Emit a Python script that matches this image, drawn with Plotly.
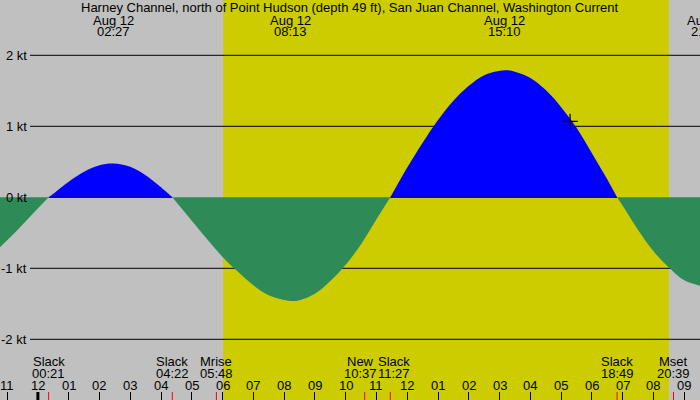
import plotly.graph_objects as go

title_text = "Harney Channel, north of Point Hudson (depth 49 ft), San Juan Channel, Washington Current"

# Current speed (kt, + = flood, - = ebb); time in hours from midnight Aug 12
hours = [-1.25, -0.75, -0.25, 0.35, 0.5, 1.0, 1.5, 2.0, 2.45, 3.0, 3.5, 4.0, 4.367,
         5.0, 5.5, 6.0, 6.5, 7.0, 7.5, 8.217, 8.5, 9.0, 9.5, 10.0, 10.5, 11.0, 11.45,
         12.0, 12.5, 13.0, 13.5, 14.0, 14.5, 15.167, 15.5, 16.0, 16.5, 17.0, 17.5, 18.0,
         18.5, 18.817, 19.0, 19.5, 20.0, 20.5, 21.0, 21.55]
speed = [-0.71, -0.50, -0.27, 0.0, 0.05, 0.22, 0.36, 0.45, 0.475, 0.43, 0.31, 0.14, 0.0,
         -0.33, -0.59, -0.84, -1.05, -1.24, -1.38, -1.46, -1.45, -1.36, -1.18, -0.95, -0.66, -0.31, 0.0,
         0.42, 0.77, 1.09, 1.36, 1.57, 1.72, 1.79, 1.77, 1.68, 1.51, 1.27, 0.98, 0.62,
         0.25, 0.0, -0.12, -0.46, -0.76, -0.99, -1.17, -1.25]

# Maximum current events (top labels)
max_times = [2.45, 8.217, 15.167, 21.77]
max_dates = ["Aug 12", "Aug 12", "Aug 12", "Aug 12"]
max_clock = ["02:27", "08:13", "15:10", "21:46"]

# Slack / moon events (bottom labels)
event_times = [0.35, 4.367, 5.8, 10.617, 11.45, 18.817, 20.65]
event_names = ["Slack", "Slack", "Mrise", "New", "Slack", "Slack", "Mset"]
event_clock = ["00:21", "04:22", "05:48", "10:37", "11:27", "18:49", "20:39"]

sunrise = 6.02
sunset = 20.5

hour_ticks = list(range(-1, 22))
hour_labels = ["11", "12", "01", "02", "03", "04", "05", "06", "07", "08", "09", "10",
               "11", "12", "01", "02", "03", "04", "05", "06", "07", "08", "09"]

kt_levels = [2, 1, 0, -1, -2]
kt_labels = ["2 kt", "1 kt", "0 kt", "-1 kt", "-2 kt"]

now_time = 17.29
now_speed = 1.07

x_range = [-1.231, 21.511]
y_range = [-2.855, 2.779]

# styling
W, H = 700, 400
FONT = "Liberation Sans"
FSIZE = 13
GRAY = "#C0C0C0"
YELLOW = "#CCCC00"
BLUE = "#0000FF"
GREEN = "#2E8B57"
label_nudge_px = {3: -4, 4: 4}   # push apart crowded bottom labels

px_per_hour = W / (x_range[1] - x_range[0])

fig = go.Figure()

# split into flood / ebb lobes at slack points
groups = []
cur = [(hours[0], speed[0])]
for h, s in zip(hours[1:], speed[1:]):
    cur.append((h, s))
    if s == 0:
        groups.append(cur)
        cur = [(h, s)]
if len(cur) > 1:
    groups.append(cur)

for g in groups:
    xs = [p[0] for p in g]
    ys = [p[1] for p in g]
    positive = sum(ys) > 0
    fig.add_trace(go.Scatter(
        x=xs, y=ys, mode="lines", line=dict(width=0, shape="spline", smoothing=1.0),
        fill="tozeroy", fillcolor=BLUE if positive else GREEN,
        hoverinfo="skip", showlegend=False))
    if positive:
        fig.add_trace(go.Scatter(
            x=[xs[0], xs[-1]], y=[0, 0], mode="lines",
            line=dict(color="black", width=1), hoverinfo="skip", showlegend=False))

fig.add_trace(go.Scatter(
    x=[now_time], y=[now_speed], mode="markers",
    marker=dict(symbol="cross-thin", size=11, line=dict(color="black", width=1.3)),
    hoverinfo="skip", showlegend=False))

shapes = [
    dict(type="rect", xref="paper", yref="paper", x0=0, x1=1, y0=0, y1=1,
         fillcolor=GRAY, line=dict(width=0), layer="below"),
    dict(type="rect", xref="x", yref="paper", x0=sunrise, x1=sunset, y0=0, y1=1,
         fillcolor=YELLOW, line=dict(width=0), layer="below"),
]
for lv in kt_levels:
    if lv == 0:
        continue
    shapes.append(dict(type="line", xref="paper", yref="y", x0=30 / W, x1=1, y0=lv, y1=lv,
                       line=dict(color="black", width=1), layer="below"))
for t in event_times:
    shapes.append(dict(type="line", xref="x", yref="paper", x0=t, x1=t,
                       ysizemode="pixel", yanchor=0, y0=0, y1=8,
                       line=dict(color="red", width=1), layer="above"))
shapes.append(dict(type="line", xref="x", yref="paper", x0=0, x1=0,
                   ysizemode="pixel", yanchor=0, y0=0, y1=8,
                   line=dict(color="black", width=3), layer="above"))

ann = []
fnt = dict(family=FONT, size=FSIZE, color="black")
ann.append(dict(text=title_text, xref="paper", yref="paper", x=0.5, y=1, yanchor="middle",
                yshift=-7.5, showarrow=False, font=fnt))
for t, d, c in zip(max_times, max_dates, max_clock):
    # labels whose event lies past the axis end are anchored at the end and shifted out
    ta = min(max(t, x_range[0]), x_range[1])
    dx = (t - ta) * px_per_hour
    ann.append(dict(text=d, xref="x", yref="paper", x=ta, y=1, yanchor="middle", yshift=-20,
                    xshift=dx, showarrow=False, font=fnt))
    ann.append(dict(text=c, xref="x", yref="paper", x=ta, y=1, yanchor="middle", yshift=-31.5,
                    xshift=dx, showarrow=False, font=fnt))
for i, (t, n, c) in enumerate(zip(event_times, event_names, event_clock)):
    dx = label_nudge_px.get(i, 0)
    ann.append(dict(text=n, xref="x", yref="paper", x=t, y=0, yanchor="middle", yshift=38.5,
                    xshift=dx, showarrow=False, font=fnt))
    ann.append(dict(text=c, xref="x", yref="paper", x=t, y=0, yanchor="middle", yshift=27,
                    xshift=dx, showarrow=False, font=fnt))
for t, lab in zip(hour_ticks, hour_labels):
    ann.append(dict(text=lab, xref="x", yref="paper", x=t, y=0, yanchor="middle", yshift=14.5,
                    showarrow=False, font=fnt))
for lv, lab in zip(kt_levels, kt_labels):
    ann.append(dict(text=lab, xref="paper", yref="y", x=0, y=lv, xanchor="right", xshift=29,
                    yanchor="middle", showarrow=False, font=fnt))

fig.update_layout(
    width=W, height=H, margin=dict(l=0, r=0, t=0, b=0),
    paper_bgcolor=GRAY, plot_bgcolor=GRAY,
    shapes=shapes, annotations=ann, showlegend=False,
    xaxis=dict(range=x_range, showgrid=False, zeroline=False, showline=False,
               ticks="inside", ticklen=8, tickwidth=1, tickcolor="black",
               tickvals=hour_ticks, showticklabels=False, fixedrange=True),
    yaxis=dict(range=y_range, showgrid=False, zeroline=False, showline=False,
               showticklabels=False, ticks="", fixedrange=True),
)

fig.write_html("out.html", config={"displayModeBar": False},
               post_script="document.body.style.margin='0px';")
